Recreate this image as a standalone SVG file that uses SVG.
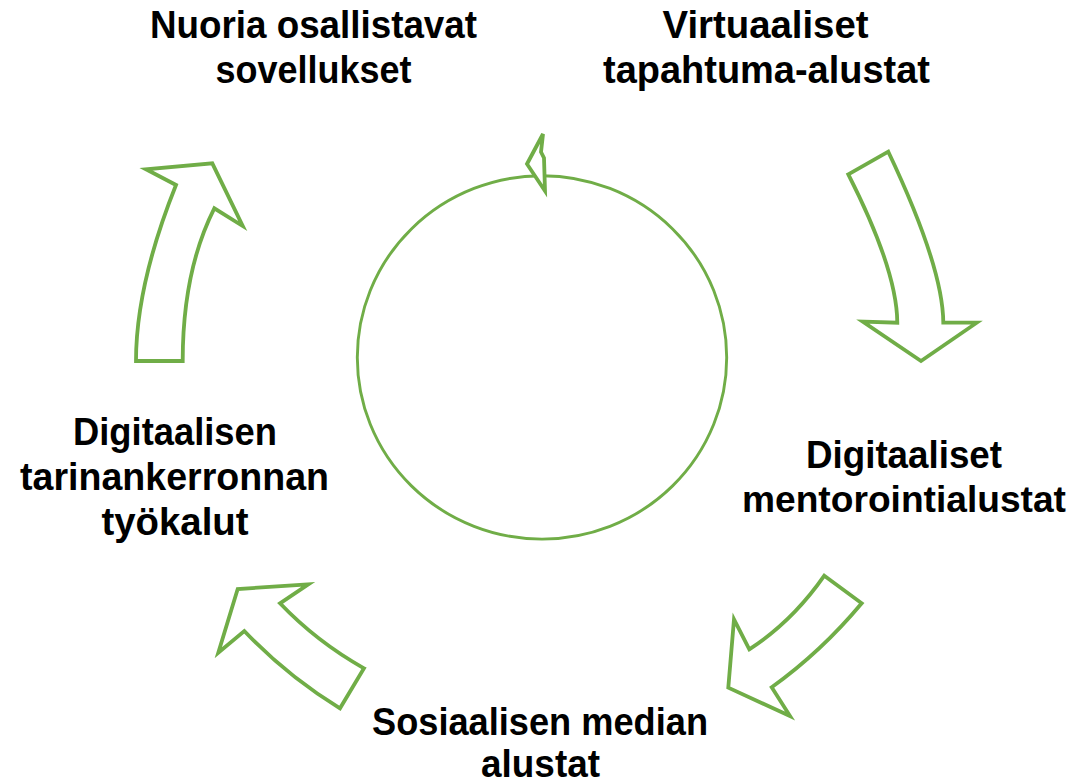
<svg xmlns="http://www.w3.org/2000/svg" width="1079" height="783" viewBox="0 0 1079 783">
<style>
.arr{fill:#ffffff;stroke:#70AD47;stroke-width:3.8;stroke-linejoin:miter}
.ring{fill:none;stroke:#70AD47;stroke-width:2.9}
.lbl{font-family:"Liberation Sans",Arial,sans-serif;font-weight:bold;font-size:39px;fill:#000000;text-anchor:middle}
.lbl.sm{font-size:37px}
</style>
<rect width="1079" height="783" fill="#ffffff"/>
<g id="cycle">
<ellipse class="ring" cx="542" cy="357.4" rx="184.7" ry="181.7"/>
<polygon class="arr" stroke-width="2.9" points="543,134 541,152 544,158 545,191 527,164"/>
</g>
<g id="connectors">
<path class="arr" d="M848.3,174.3 L888.3,151.7 Q943,267 943.3,322.7 L976.7,322.7 L921,361 L862.7,321.7 L897.3,322.7 Q897,270 848.3,174.3 Z"/>
<path class="arr" d="M364,668.3 Q317,642 280,603.3 L308.3,584.3 L237.7,589 L218.3,652.7 L244.3,631 Q287,676 340,708.3 Z"/>
<path class="arr" d="M136,361 L182.7,361 Q182.7,271 214.3,208.3 L242.7,226 L212.3,163.3 L146,169.3 L176,185 Q136,285 136,361 Z"/>
<path class="arr" d="M824.3,575.7 L861.7,603.3 Q821,652 771.7,687.3 L790,716 L728.3,687.7 L734,619.3 L749.3,649.3 Q792,622 824.3,575.7 Z"/>
</g>
<g id="node-nuoria">
<text class="lbl" x="313.5" y="38" textLength="327" lengthAdjust="spacingAndGlyphs">Nuoria osallistavat</text>
<text class="lbl" x="313.5" y="83" textLength="196" lengthAdjust="spacingAndGlyphs">sovellukset</text>
</g>
<g id="node-virtuaaliset">
<text class="lbl" x="765.5" y="38" textLength="206" lengthAdjust="spacingAndGlyphs">Virtuaaliset</text>
<text class="lbl" x="766.5" y="83" textLength="327" lengthAdjust="spacingAndGlyphs">tapahtuma-alustat</text>
</g>
<g id="node-mentorointi">
<text class="lbl" x="904" y="468" textLength="196" lengthAdjust="spacingAndGlyphs">Digitaaliset</text>
<text class="lbl sm" x="904" y="512" textLength="324" lengthAdjust="spacingAndGlyphs">mentorointialustat</text>
</g>
<g id="node-sosiaalinen">
<text class="lbl" x="540" y="735" textLength="336" lengthAdjust="spacingAndGlyphs">Sosiaalisen median</text>
<text class="lbl" x="540.5" y="777" textLength="119" lengthAdjust="spacingAndGlyphs">alustat</text>
</g>
<g id="node-tarinankerronta">
<text class="lbl" x="175" y="445" textLength="204" lengthAdjust="spacingAndGlyphs">Digitaalisen</text>
<text class="lbl" x="174.5" y="490" textLength="309" lengthAdjust="spacingAndGlyphs">tarinankerronnan</text>
<text class="lbl" x="175" y="535" textLength="147" lengthAdjust="spacingAndGlyphs">työkalut</text>
</g>
</svg>
